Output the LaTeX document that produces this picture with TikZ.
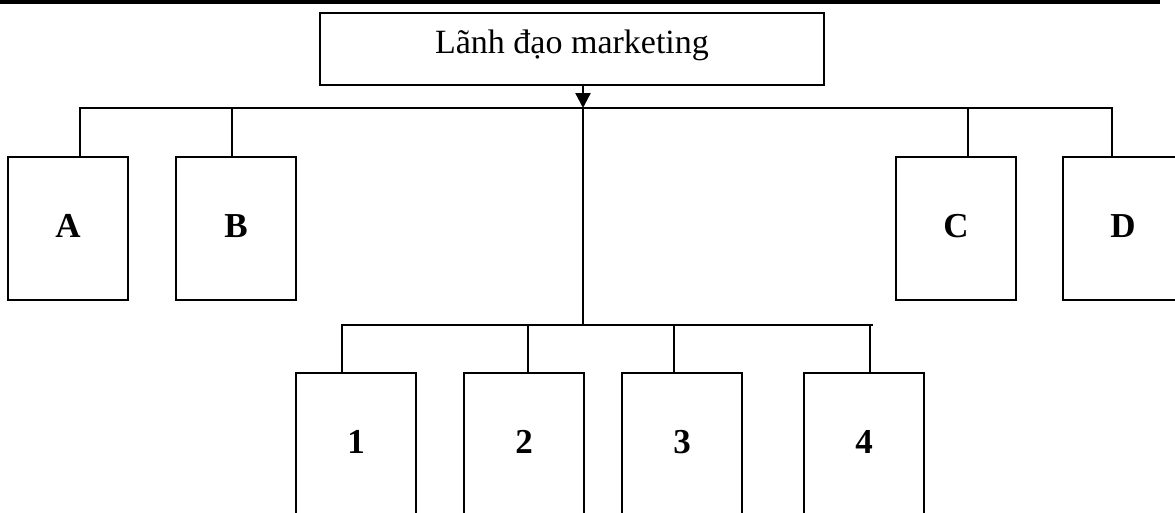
\documentclass[tikz,border=0pt]{standalone}
\usepackage{fontspec}
\setmainfont{Liberation Serif}
\usetikzlibrary{arrows.meta}
\begin{document}
\begin{tikzpicture}[x=1pt,y=-1pt,
  box/.style={draw,line width=2.7pt,minimum width=120pt,minimum height=143pt,inner sep=0pt,
    font=\fontsize{35}{40}\selectfont\bfseries,text height=24pt,text depth=7pt},
  leadbox/.style={draw,line width=2.7pt,minimum width=504pt,minimum height=72pt,inner sep=0pt,
    font=\fontsize{34}{40}\selectfont,text height=20pt,text depth=12pt},
  link/.style={line width=2.3pt},
]
\useasboundingbox (0,0) rectangle (1175,512);
\clip (0,0) rectangle (1175,512);
\draw[line width=4pt] (0,1.5) -- (1160,1.5);

\node[leadbox] (lead) at (572,49) {Lãnh đạo marketing};

\node[box] (A) at (68,228.5) {A};
\node[box] (B) at (236,228.5) {B};
\node[box] (C) at (956,228.5) {C};
\node[box] (D) at (1123,228.5) {D};

\node[box] (n1) at (356,444.5) {1};
\node[box] (n2) at (524,444.5) {2};
\node[box] (n3) at (682,444.5) {3};
\node[box] (n4) at (864,444.5) {4};

\coordinate (hub) at (583,108);
\coordinate (ta) at (80,108);
\coordinate (tb) at (232,108);
\coordinate (tc) at (968,108);
\coordinate (td) at (1112,108);
\coordinate (lhub) at (583,325);
\coordinate (l1) at (342,325);
\coordinate (l2) at (528,325);
\coordinate (l3) at (674,325);
\coordinate (l4) at (870,325);
\coordinate (lend) at (873,325);

\draw[link] (ta |- A.north) -- (ta) -- (td) -- (td |- D.north);
\draw[link] (tb) -- (tb |- B.north);
\draw[link] (tc) -- (tc |- C.north);
\draw[link,-{Triangle[width=15pt,length=15pt]}] (lead.south -| hub) -- (hub);
\draw[link] (hub) -- (lhub);
\draw[link] (l1 |- n1.north) -- (l1) -- (lend);
\draw[link] (l2) -- (l2 |- n2.north);
\draw[link] (l3) -- (l3 |- n3.north);
\draw[link] (l4) -- (l4 |- n4.north);
\end{tikzpicture}
\end{document}
